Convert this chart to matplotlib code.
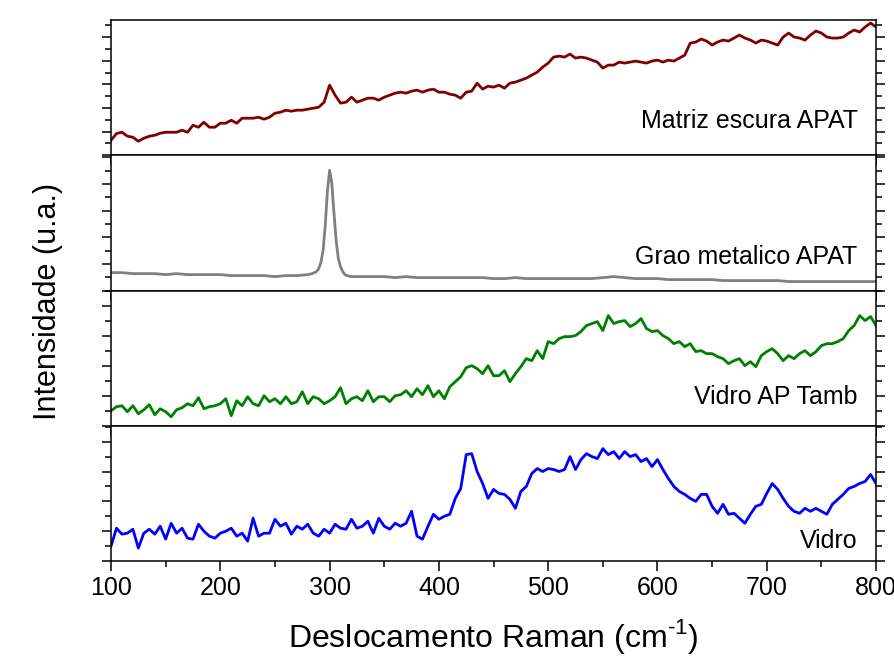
import numpy as np
import matplotlib
matplotlib.use('Agg')
import matplotlib.pyplot as plt
from matplotlib.ticker import MultipleLocator

plt.rcParams['font.family'] = ['Liberation Sans', 'DejaVu Sans']
plt.rcParams['mathtext.fontset'] = 'custom'
plt.rcParams['mathtext.rm'] = 'Liberation Sans'

# Raman shift grid (cm-1), 5 cm-1 step
shift = np.arange(100, 805, 5)

# intensities (arbitrary units)
matriz = [15, 21.7, 23, 19, 18, 14, 17, 19, 20, 22,
          23, 23, 23, 25, 23, 30, 28, 33, 28, 28,
          32, 32, 35, 32, 37, 37, 37, 38, 36, 38,
          42, 43, 45, 44, 45, 45, 46, 47, 48, 53,
          70, 60, 52, 53, 58, 53, 55, 57, 57, 55,
          58, 60, 62, 63, 62, 64, 65, 63, 65, 66,
          63, 63, 61, 60, 57, 63, 64, 72, 66, 69,
          68, 70, 67, 72, 73, 75, 77, 80, 83, 88,
          92, 98, 99, 98, 101, 97, 98, 97, 95, 93,
          87, 90, 90, 93, 92, 93, 94, 93, 92, 94,
          95, 93, 95, 94, 97, 100, 112, 113, 116, 114,
          110, 113, 115, 114, 117, 120, 117, 115, 112, 115,
          114, 112, 110, 118, 122, 118, 117, 115, 120, 124,
          122, 118, 117, 117, 118, 122, 125, 123, 128, 132,
          128]

grao_shift = [100, 110, 120, 130, 140, 150, 160, 170, 180, 190,
              200, 210, 220, 230, 240, 250, 260, 270, 280,
              284, 288, 290, 292, 294, 296, 298, 300, 302, 304,
              306, 308, 310, 312, 314, 316, 320,
              330, 340, 350, 360, 370, 380, 390, 400, 410, 420,
              430, 440, 450, 460, 470, 480, 490, 500, 510, 520,
              530, 540, 550, 560, 570, 580, 590, 600, 610, 620,
              630, 640, 650, 660, 670, 680, 690, 700, 710, 720,
              730, 740, 750, 760, 770, 780, 790, 800]
grao = [18, 18, 17, 17, 17, 16, 17, 16, 16, 16,
        16, 15, 15, 15, 15, 14, 15, 15, 16,
        17, 19, 22, 28, 40, 65, 100, 121, 108, 78,
        50, 32, 24, 19, 16, 15, 14,
        14, 14, 14, 13, 14, 13, 13, 13, 13, 13,
        13, 13, 12, 12, 13, 12, 12, 12, 12, 12,
        12, 12, 13, 14, 13, 12, 12, 12, 11, 11,
        11, 11, 11, 10, 10, 10, 10, 10, 10, 9,
        9, 9, 9, 9, 9, 9, 9, 9]

vidro_tamb = [15, 19, 20, 14, 20, 12, 16, 21, 11, 17,
              14, 9, 16, 18, 22, 20, 28, 17, 19, 20,
              22, 27, 10, 25, 20, 29, 22, 20, 30, 24,
              27, 22, 29, 22, 24, 34, 22, 29, 27, 22,
              25, 29, 38, 22, 27, 29, 25, 35, 24, 29,
              29, 24, 30, 31, 35, 29, 37, 31, 40, 29,
              35, 27, 39, 44, 49, 58, 60, 57, 52, 60,
              50, 50, 55, 44, 52, 59, 67, 65, 75, 67,
              84, 82, 87, 89, 89, 90, 94, 100, 102, 104,
              95, 110, 102, 104, 105, 99, 102, 107, 97, 94,
              95, 90, 87, 82, 84, 79, 82, 74, 75, 72,
              72, 69, 67, 62, 65, 67, 60, 64, 59, 70,
              74, 77, 72, 65, 70, 67, 72, 75, 70, 74,
              80, 82, 82, 84, 87, 95, 100, 110, 105, 109,
              100]

vidro = [15, 33, 27, 28, 32, 13, 28, 32, 27, 35,
         22, 38, 28, 33, 23, 22, 37, 30, 25, 23,
         28, 30, 33, 25, 28, 20, 43, 25, 28, 28,
         42, 35, 38, 27, 35, 32, 37, 28, 25, 32,
         28, 37, 33, 32, 42, 33, 35, 40, 28, 43,
         35, 32, 38, 35, 38, 50, 25, 22, 35, 47,
         42, 45, 47, 63, 73, 107, 108, 90, 78, 63,
         72, 68, 67, 62, 53, 70, 75, 88, 93, 90,
         93, 92, 90, 92, 105, 92, 102, 108, 105, 103,
         113, 107, 110, 103, 110, 105, 107, 100, 103, 95,
         102, 92, 83, 75, 70, 67, 63, 60, 67, 67,
         55, 48, 57, 47, 48, 43, 38, 47, 55, 57,
         68, 78, 72, 63, 55, 50, 48, 53, 50, 53,
         50, 47, 57, 62, 67, 73, 75, 78, 80, 87,
         78]

labels = ['Matriz escura APAT', 'Grao metalico APAT', 'Vidro AP Tamb', 'Vidro']
colors = ['#800000', '#808080', '#008000', '#0000ff']
series = [(shift, matriz), (grao_shift, grao), (shift, vidro_tamb), (shift, vidro)]

# per-panel y range and tick step, label height
ylims = [(0, 135), (0, 136), (0, 135), (0, 136)]
ysteps = [11.8, 13.4, 15.0, 15.0]
label_y = [0.25, 0.25, 0.215, 0.147]

fig, axes = plt.subplots(4, 1, sharex=True, figsize=(8.94, 6.63), dpi=100)
fig.subplots_adjust(left=0.1242, right=0.9799, top=0.9698, bottom=0.1538, hspace=0)

for i, ax in enumerate(axes):
    x, y = series[i]
    ax.plot(x, y, color=colors[i], lw=2.0)
    ax.set_ylim(*ylims[i])
    ax.set_xlim(100, 800)
    ax.yaxis.set_major_locator(MultipleLocator(2 * ysteps[i]))
    ax.yaxis.set_minor_locator(MultipleLocator(ysteps[i]))
    ax.xaxis.set_major_locator(MultipleLocator(100))
    ax.xaxis.set_minor_locator(MultipleLocator(50))
    ax.tick_params(axis='y', which='both', direction='out', left=True, right=True,
                   labelleft=False, width=1.1)
    ax.tick_params(axis='y', which='major', length=6.5)
    ax.tick_params(axis='y', which='minor', length=4)
    ax.tick_params(axis='x', which='both', direction='out', bottom=True, top=False, width=1.1)
    ax.tick_params(axis='x', which='major', length=7.5, labelsize=18)
    ax.tick_params(axis='x', which='minor', length=4)
    for sp in ax.spines.values():
        sp.set_linewidth(1.1)
    ax.text(0.976, label_y[i], labels[i], transform=ax.transAxes,
            ha='right', va='center', fontsize=18)

# hyphen (not minus) in the superscript, as in the original
axes[-1].set_xlabel('Deslocamento Raman (cm$^{\\mathregular{\u20101}}$)', fontsize=23, labelpad=12)
fig.text(0.054, 0.545, 'Intensidade (u.a.)', rotation=90, ha='center', va='center', fontsize=22)

plt.savefig('out.png', dpi=100)
